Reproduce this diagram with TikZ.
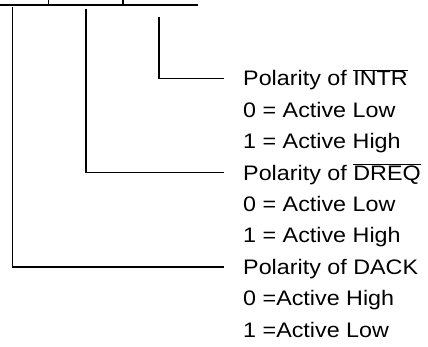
\documentclass[tikz,border=0pt]{standalone}
\usepackage{fontspec}
\setmainfont{Liberation Sans}
\usetikzlibrary{calc}
\newcommand{\ovl}[1]{$\overline{\mbox{#1}}$}

\begin{document}
\begin{tikzpicture}[%
    x=1pt, y=1pt,               % Work in points, like the pixel grid
    ]
% -------------------------------------------------
% A few styles
\tikzset{
  bar/.style={draw, line width=2.3pt},
  tick/.style={draw, line width=1.3pt},
  lead/.style={draw, line width=1.4pt},
  lbl/.style={anchor=base west, inner sep=0pt, xscale=1.11,
    font=\fontsize{21}{25}\selectfont}
}
\useasboundingbox (0,0) rectangle (428,347);
% -------------------------------------------------
% Register bits on top
\coordinate (barl) at (0,341.8);
\coordinate (barr) at (198,341.8);
\draw[bar] (barl) -- (barr);
\draw[tick] (48.3,347) -- (48.3,341.8);
\draw[tick] (123,347) -- (123,341.8);

\coordinate (tapa) at (12.3,340);
\coordinate (tapb) at (86,338);
\coordinate (tapc) at (159,330);

% -------------------------------------------------
% Text lines
\node [lbl] (intr) at (243,261) {Polarity of \ovl{INTR}};
\node [lbl] (intr0) at ([yshift=-31.4pt]intr.base west) {0 = Active Low};
\node [lbl] (intr1) at ([yshift=-31.4pt]intr0.base west) {1 = Active High};
\node [lbl] (dreq) at ([yshift=-31.4pt]intr1.base west) {Polarity of \ovl{DREQ}};
\node [lbl] (dreq0) at ([yshift=-31.4pt]dreq.base west) {0 = Active Low};
\node [lbl] (dreq1) at ([yshift=-31.4pt]dreq0.base west) {1 = Active High};
\node [lbl] (dack) at ([yshift=-31.4pt]dreq1.base west) {Polarity of DACK};
\node [lbl] (dack0) at ([yshift=-31.4pt]dack.base west) {0 =Active High};
\node [lbl] (dack1) at ([yshift=-31.4pt]dack0.base west) {1 =Active Low};

% -------------------------------------------------
% Leads from the bits to their text
\draw[lead] (tapc) |- ([xshift=-19pt,yshift=7.5pt]intr.base west);	%bit 0
\draw[lead] (tapb) |- ([xshift=-19pt,yshift=7.5pt]dreq.base west);	%bit 1
\draw[lead] (tapa) |- ([xshift=-19pt,yshift=7.5pt]dack.base west);	%bit 2

% -------------------------------------------------
\end{tikzpicture}
\end{document}
